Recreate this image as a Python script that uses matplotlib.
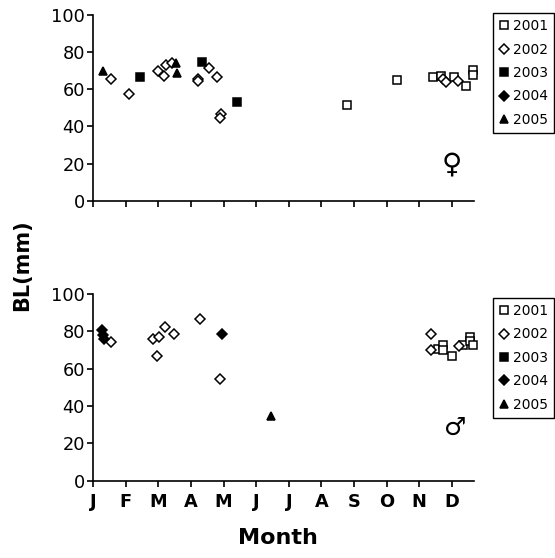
import matplotlib.pyplot as plt

month_labels = ["J", "F", "M", "A", "M", "J", "J", "A", "S", "O", "N", "D"]
years = ["2001", "2002", "2003", "2004", "2005"]

# female (top panel): month position (0 = start of Jan), BL in mm
f_2001_month = [7.78, 9.31, 10.41, 10.67, 11.07, 11.43, 11.66, 11.66]
f_2001_bl = [51.4, 65.1, 66.5, 67.4, 66.8, 62.0, 70.4, 67.7]
f_2002_month = [0.54, 1.10, 1.99, 2.18, 2.23, 2.42, 3.22, 3.22, 3.56, 3.79,
                3.91, 3.89, 10.72, 10.81, 11.20]
f_2002_bl = [65.8, 57.2, 70.1, 67.4, 73.0, 74.4, 65.6, 64.5, 71.7, 66.8,
             46.6, 44.4, 65.6, 63.8, 64.5]
f_2003_month = [1.43, 3.33, 4.42]
f_2003_bl = [66.5, 74.9, 53.4]
f_2004_month = []
f_2004_bl = []
f_2005_month = [0.31, 2.54, 2.56]
f_2005_bl = [69.9, 74.4, 68.5]

# male (bottom panel)
m_2001_month = [10.58, 10.74, 10.74, 11.01, 11.33, 11.57, 11.57, 11.65]
m_2001_bl = [70.4, 72.7, 70.2, 67.0, 72.7, 77.0, 75.0, 72.7]
m_2002_month = [0.56, 1.82, 2.02, 1.96, 2.19, 2.48, 3.29, 3.89, 10.35,
                10.35, 11.23]
m_2002_bl = [74.5, 76.1, 76.8, 67.0, 82.2, 78.4, 86.8, 54.3, 78.5, 70.0, 72.1]
m_2003_month = []
m_2003_bl = []
m_2004_month = [0.28, 0.29, 0.33, 3.94]
m_2004_bl = [80.6, 77.8, 75.7, 78.4]
m_2005_month = [5.45]
m_2005_bl = [34.8]

styles = {
    "2001": dict(marker="s", mfc="white", ms=5.6),
    "2002": dict(marker="D", mfc="white", ms=5.2),
    "2003": dict(marker="s", mfc="black", ms=5.8),
    "2004": dict(marker="D", mfc="black", ms=5.2),
    "2005": dict(marker="^", mfc="black", ms=6.4),
}

plt.rcParams["font.family"] = "DejaVu Sans"

fig = plt.figure(figsize=(5.55, 5.58), dpi=100)
ax_top = fig.add_axes([0.168, 0.640, 0.686, 0.3333])
ax_bot = fig.add_axes([0.168, 0.1385, 0.686, 0.3346])

panels = [
    (ax_top, [(f_2001_month, f_2001_bl), (f_2002_month, f_2002_bl),
              (f_2003_month, f_2003_bl), (f_2004_month, f_2004_bl),
              (f_2005_month, f_2005_bl)], "\u2640", (10.99, 19.5), 20, 0.977),
    (ax_bot, [(m_2001_month, m_2001_bl), (m_2002_month, m_2002_bl),
              (m_2003_month, m_2003_bl), (m_2004_month, m_2004_bl),
              (m_2005_month, m_2005_bl)], "\u2642", (11.1, 28.5), 18, 0.4665),
]

for ax, series, sex, sex_pos, sex_size, leg_top in panels:
    for year, (xs, ys) in zip(years, series):
        st = styles[year]
        ax.plot(xs, ys, linestyle="none", marker=st["marker"], ms=st["ms"],
                mfc=st["mfc"], mec="black", mew=1.1, label=year,
                clip_on=False)

    ax.set_xlim(0, 11.68)
    ax.set_ylim(0, 100)
    ax.set_yticks([0, 20, 40, 60, 80, 100])
    ax.set_xticks(range(12))
    ax.spines["top"].set_visible(False)
    ax.spines["right"].set_visible(False)
    ax.spines["left"].set_linewidth(1.2)
    ax.spines["bottom"].set_linewidth(1.2)
    ax.tick_params(axis="both", direction="out", length=4, width=1.2,
                   labelsize=12.8, colors="black")
    ax.tick_params(axis="y", pad=2)

    ax.text(sex_pos[0], sex_pos[1], sex, fontsize=sex_size, ha="center",
            va="center")

    ax.legend(loc="upper left", bbox_to_anchor=(0.888, leg_top),
              bbox_transform=fig.transFigure, frameon=True, fancybox=False,
              edgecolor="black", fontsize=10, handlelength=0.7,
              handletextpad=0.3, labelspacing=0.68, borderpad=0.45,
              borderaxespad=0, framealpha=1)
    ax.get_legend().get_frame().set_linewidth(1.0)

ax_top.set_xticklabels([])
ax_bot.set_xticklabels(month_labels, fontweight="bold", fontsize=12.8)
ax_bot.tick_params(axis="x", pad=5)

fig.text(0.04, 0.525, "BL(mm)", rotation=90, fontsize=15, fontweight="bold",
         ha="center", va="center")
fig.text(0.50, 0.018, "Month", fontsize=16, fontweight="bold",
         ha="center", va="bottom")

fig.savefig("out.png", dpi=100)
